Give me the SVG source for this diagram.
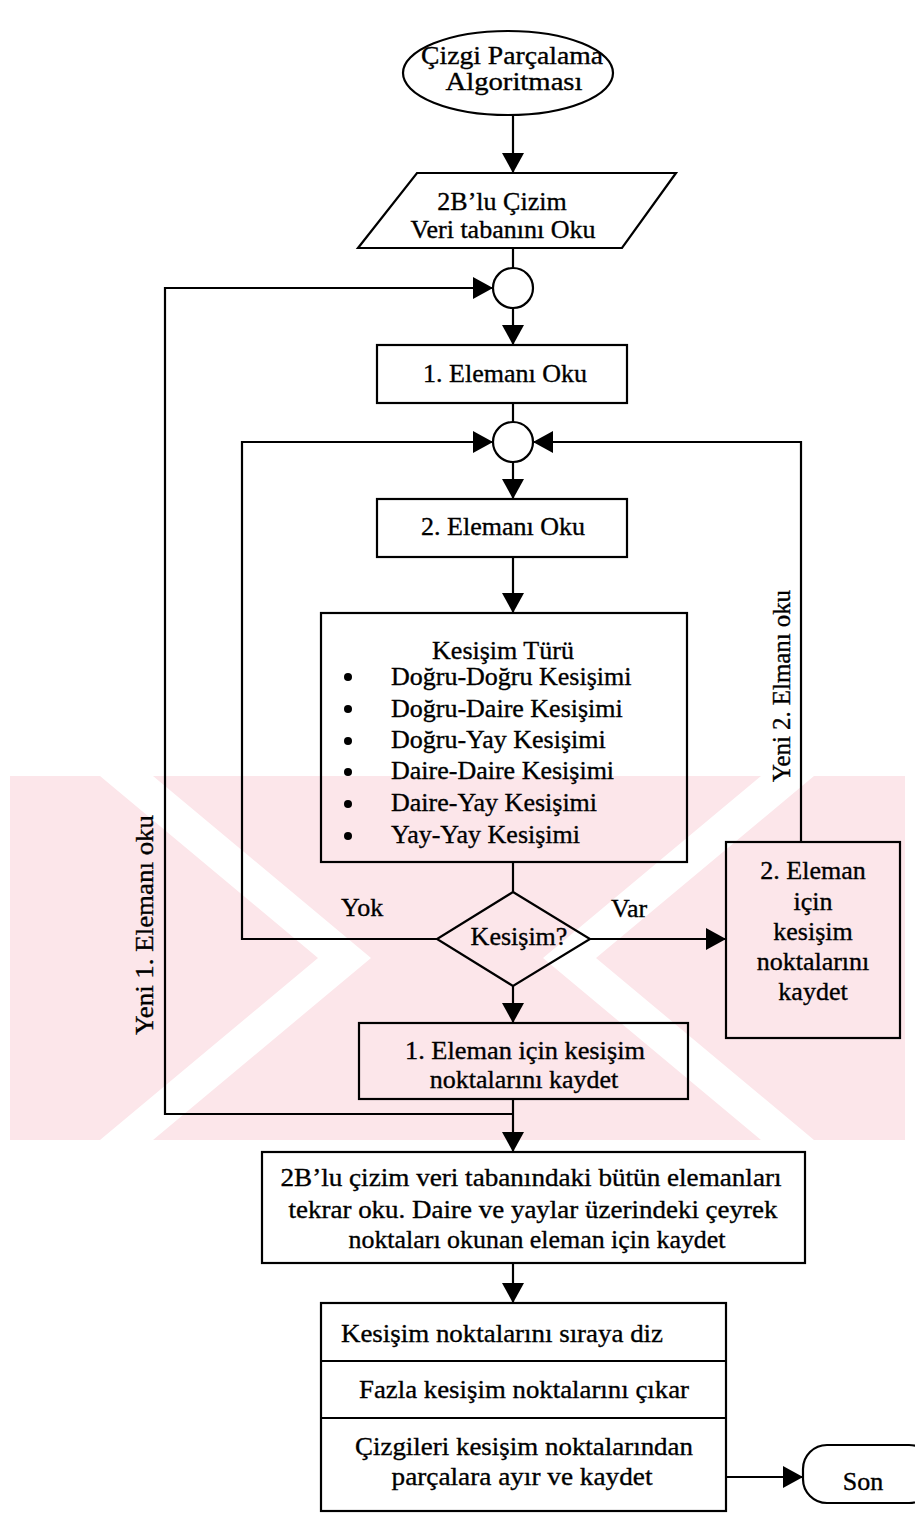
<svg xmlns="http://www.w3.org/2000/svg" width="915" height="1517" viewBox="0 0 915 1517">
<defs>
<marker id="ah" markerUnits="userSpaceOnUse" markerWidth="20" markerHeight="22" refX="20" refY="11" orient="auto"><path d="M0,0 L20,11 L0,22 z" fill="#000"/></marker>
<style>
.n{fill:none;stroke:#000;stroke-width:2.2}
.c{fill:none;stroke:#000;stroke-width:2.2}
.t{font-family:"Liberation Serif","Times New Roman",serif;font-size:26px;fill:#000;stroke:#000;stroke-width:0.35}
.m{text-anchor:middle}
.wm{fill:#fce6ea}
.ww{fill:#fff}
</style>
</defs>
<rect width="915" height="1517" fill="#fff"/>
<g id="watermark">
<rect class="wm" x="10" y="776" width="895" height="364"/>
<polygon class="ww" points="100,776 153,776 371,958 153,1140 100,1140 318,958"/>
<polygon class="ww" points="814,776 761,776 543,958 761,1140 814,1140 596,958"/>
</g>
<g id="connectors">
<line class="c" x1="513" y1="115" x2="513" y2="173" marker-end="url(#ah)"/>
<line class="c" x1="513" y1="248" x2="513" y2="268"/>
<line class="c" x1="513" y1="308" x2="513" y2="345" marker-end="url(#ah)"/>
<line class="c" x1="513" y1="403" x2="513" y2="422"/>
<line class="c" x1="513" y1="462" x2="513" y2="499" marker-end="url(#ah)"/>
<line class="c" x1="513" y1="557" x2="513" y2="613" marker-end="url(#ah)"/>
<line class="c" x1="513" y1="862" x2="513" y2="892"/>
<line class="c" x1="590" y1="939" x2="726" y2="939" marker-end="url(#ah)"/>
<polyline class="c" points="437,939 242,939 242,442 493,442" marker-end="url(#ah)"/>
<polyline class="c" points="801,842 801,442 533,442" marker-end="url(#ah)"/>
<line class="c" x1="513" y1="986" x2="513" y2="1023" marker-end="url(#ah)"/>
<line class="c" x1="513" y1="1099" x2="513" y2="1152" marker-end="url(#ah)"/>
<polyline class="c" points="513,1114 165,1114 165,288 493,288" marker-end="url(#ah)"/>
<line class="c" x1="513" y1="1263" x2="513" y2="1303" marker-end="url(#ah)"/>
<line class="c" x1="726" y1="1477" x2="803" y2="1477" marker-end="url(#ah)"/>
<text class="t" x="341" y="916">Yok</text>
<text class="t" x="611" y="917">Var</text>
<text class="t m" transform="translate(153,925) rotate(-90)" textLength="220" lengthAdjust="spacingAndGlyphs">Yeni 1. Elemanı oku</text>
<text class="t m" transform="translate(790,686) rotate(-90)" font-size="25" textLength="192" lengthAdjust="spacingAndGlyphs">Yeni 2. Elmanı oku</text>
</g>
<g id="start">
<ellipse class="n" cx="508" cy="73" rx="105" ry="42"/>
<text class="t m" x="512" y="64" font-size="23" textLength="182" lengthAdjust="spacingAndGlyphs">Çizgi Parçalama</text>
<text class="t m" x="514" y="90" font-size="23" textLength="137" lengthAdjust="spacingAndGlyphs">Algoritması</text>
</g>
<g id="input">
<polygon class="n" points="417,173 676,173 622,248 358,248"/>
<text class="t m" x="502" y="210">2B’lu Çizim</text>
<text class="t m" x="503" y="238">Veri tabanını Oku</text>
</g>
<g id="join1"><circle class="n" cx="513" cy="288" r="20"/></g>
<g id="read1">
<rect class="n" x="377" y="345" width="250" height="58"/>
<text class="t m" x="505" y="382">1. Elemanı Oku</text>
</g>
<g id="join2"><circle class="n" cx="513" cy="442" r="20"/></g>
<g id="read2">
<rect class="n" x="377" y="499" width="250" height="58"/>
<text class="t m" x="503" y="535">2. Elemanı Oku</text>
</g>
<g id="types">
<rect class="n" x="321" y="613" width="366" height="249"/>
<text class="t m" x="503" y="659">Kesişim Türü</text>
<circle cx="348" cy="677" r="4"/><text class="t" x="391" y="685">Doğru-Doğru Kesişimi</text>
<circle cx="348" cy="709" r="4"/><text class="t" x="391" y="717">Doğru-Daire Kesişimi</text>
<circle cx="348" cy="741" r="4"/><text class="t" x="391" y="748">Doğru-Yay Kesişimi</text>
<circle cx="348" cy="772" r="4"/><text class="t" x="391" y="779">Daire-Daire Kesişimi</text>
<circle cx="348" cy="804" r="4"/><text class="t" x="391" y="811">Daire-Yay Kesişimi</text>
<circle cx="348" cy="836" r="4"/><text class="t" x="391" y="843">Yay-Yay Kesişimi</text>
</g>
<g id="decision">
<polygon class="n" stroke-width="2.8" points="513,892 590,939 513,986 437,939"/>
<text class="t m" x="519" y="945">Kesişim?</text>
</g>
<g id="save2">
<rect class="n" x="726" y="842" width="174" height="196"/>
<text class="t m" x="813" y="879">2. Eleman</text>
<text class="t m" x="813" y="910">için</text>
<text class="t m" x="813" y="940">kesişim</text>
<text class="t m" x="813" y="970">noktalarını</text>
<text class="t m" x="813" y="1000">kaydet</text>
</g>
<g id="save1">
<rect class="n" x="359" y="1023" width="329" height="76"/>
<text class="t m" x="525" y="1059" textLength="240" lengthAdjust="spacingAndGlyphs">1. Eleman için kesişim</text>
<text class="t m" x="524" y="1088">noktalarını kaydet</text>
</g>
<g id="reread">
<rect class="n" x="262" y="1152" width="543" height="111"/>
<text class="t m" x="531" y="1186" textLength="501" lengthAdjust="spacingAndGlyphs">2B’lu çizim veri tabanındaki bütün elemanları</text>
<text class="t m" x="533" y="1218" textLength="489" lengthAdjust="spacingAndGlyphs">tekrar oku. Daire ve yaylar üzerindeki çeyrek</text>
<text class="t m" x="537" y="1248" textLength="377" lengthAdjust="spacingAndGlyphs">noktaları okunan eleman için kaydet</text>
</g>
<g id="process">
<rect class="n" x="321" y="1303" width="405" height="208"/>
<line class="n" x1="321" y1="1361" x2="726" y2="1361"/>
<line class="n" x1="321" y1="1418" x2="726" y2="1418"/>
<text class="t" x="341" y="1342" textLength="322" lengthAdjust="spacingAndGlyphs">Kesişim noktalarını sıraya diz</text>
<text class="t m" x="524" y="1398" textLength="330" lengthAdjust="spacingAndGlyphs">Fazla kesişim noktalarını çıkar</text>
<text class="t m" x="524" y="1455" textLength="338" lengthAdjust="spacingAndGlyphs">Çizgileri kesişim noktalarından</text>
<text class="t m" x="522" y="1485" textLength="261" lengthAdjust="spacingAndGlyphs">parçalara ayır ve kaydet</text>
</g>
<g id="end">
<rect class="n" x="803" y="1445" width="130" height="58" rx="24"/>
<text class="t m" x="863" y="1490">Son</text>
</g>
</svg>
